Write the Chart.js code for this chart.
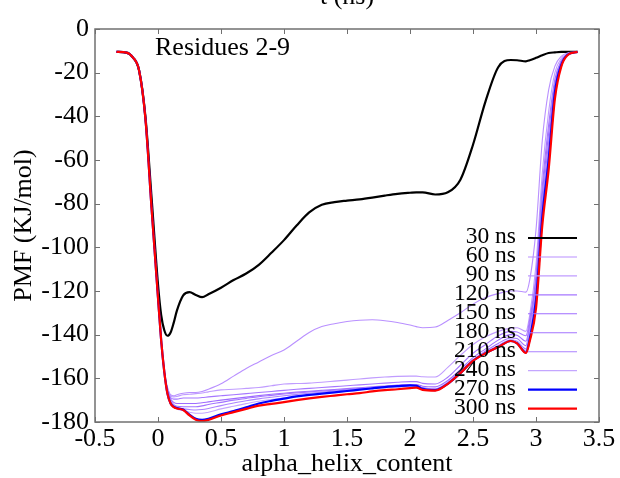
<!DOCTYPE html>
<html><head><meta charset="utf-8">
<script src="https://cdn.jsdelivr.net/npm/chart.js@4.4.1/dist/chart.umd.min.js"></script>
<style>html,body{margin:0;padding:0;background:#fff;}canvas{display:block;}</style>
</head><body>
<canvas id="c" width="620" height="478" style="width:620px;height:478px"></canvas>
<script>
// ---------- data ----------
const xValues = [-0.33,-0.25,-0.2,-0.15,-0.1,-0.05,0,0.025,0.05,0.075,0.1,0.125,0.15,0.2,0.25,0.3,0.35,0.4,0.5,0.6,0.7,0.8,0.9,1.0,1.1,1.2,1.3,1.4,1.5,1.6,1.7,1.8,1.9,2.0,2.05,2.1,2.2,2.3,2.4,2.5,2.6,2.7,2.8,2.85,2.92,2.95,3.0,3.05,3.1,3.15,3.2,3.25,3.33];

const seriesLabels = ['30 ns','60 ns','90 ns','120 ns','150 ns','180 ns','210 ns','240 ns','270 ns','300 ns'];

const pmf30 = [-10.5,-10.8,-13,-19,-40,-78,-117,-131,-138,-140.5,-139,-134.5,-129,-122,-120.5,-121.8,-122.8,-121.5,-118.5,-115,-112,-108,-102.5,-96.7,-90,-84,-80.5,-79.3,-78.6,-78,-77.2,-76.3,-75.5,-75,-74.8,-74.8,-75.8,-74.8,-69,-53,-33,-17.5,-14.2,-14.3,-14.8,-14.3,-13.2,-12,-11,-10.7,-10.5,-10.5,-10.5];
const pmf60 = [-10.5,-10.8,-13,-19,-41,-83,-123,-142.5,-157,-164,-167.5,-168,-167.5,-166.8,-166.5,-166.5,-166,-165,-162.5,-159,-155.5,-152.5,-149.5,-147,-143,-139,-136.3,-135,-134,-133.4,-133.2,-133.6,-134.4,-135.6,-136.3,-136.8,-136.5,-133.5,-130,-126,-123,-121.2,-120,-120,-120.5,-115,-92,-51,-28,-17,-12.5,-11,-10.5];
const pmf90 = [-10.5,-10.8,-13,-19,-41,-83,-123,-142.5,-157,-164.5,-168,-168.5,-168.3,-167.5,-167.3,-167,-166.7,-166.2,-165.3,-165,-164.6,-164.2,-163.4,-162.6,-162.4,-162.2,-161.8,-161.3,-160.8,-160.3,-159.8,-159.4,-159.1,-159,-159,-159.3,-159.4,-155,-149.5,-144.5,-141,-138.5,-137,-136.8,-138.5,-131,-108,-66,-38,-20,-13.5,-11.3,-10.5];
const pmf120 = [-10.5,-10.8,-13,-19,-41,-83,-123,-142.5,-157,-165,-168.8,-169.5,-169.5,-169,-169,-169,-168.8,-168.5,-168,-167.5,-167,-166.5,-166,-165.5,-165,-164.6,-164.2,-163.8,-163.4,-163,-162.6,-162.2,-161.8,-161.5,-161.5,-162.3,-162.6,-159.5,-154,-148.5,-144.5,-140.5,-138.5,-138.8,-140.5,-133,-113,-72,-44,-23,-14.5,-11.5,-10.5];
const pmf150 = [-10.5,-10.8,-13,-19,-41,-83,-123,-142.5,-157,-165.5,-169.5,-171,-171.5,-171.5,-171.5,-171.5,-171.2,-170.8,-170,-169.3,-168.6,-167.9,-167.3,-166.8,-166.3,-165.9,-165.5,-165.1,-164.7,-164.3,-163.9,-163.5,-163.1,-162.8,-162.8,-163.6,-163.9,-161,-156,-150.5,-146.5,-142.5,-140,-140.3,-143,-135,-115,-76,-48,-25,-15,-11.7,-10.5];
const pmf180 = [-10.5,-10.8,-13,-19,-41,-83,-123,-142.5,-157,-166,-170,-172,-172.8,-173,-173,-173,-172.6,-172,-171,-170,-169.2,-168.4,-167.8,-167.2,-166.7,-166.2,-165.8,-165.4,-165,-164.6,-164.2,-163.8,-163.4,-163.1,-163.1,-164.2,-164.8,-161.8,-157,-151.5,-147.5,-144,-141.5,-141.8,-145,-136,-117,-80,-52,-27,-15.5,-11.8,-10.5];
const pmf210 = [-10.5,-10.8,-13,-19,-41,-83,-123,-142.5,-157,-166.3,-170.5,-172.8,-173.5,-174,-174.3,-174.5,-174.3,-173.8,-172.5,-171.3,-170.3,-169.4,-168.7,-168,-167.4,-166.8,-166.3,-165.8,-165.3,-164.8,-164.3,-164,-163.6,-163.3,-163.4,-164.6,-165.2,-162.2,-157.3,-151.8,-148,-145,-142.3,-143,-146.5,-138,-120,-83,-56,-29,-16,-12,-10.5];
const pmf240 = [-10.5,-10.8,-13,-19,-41,-83,-123,-142.5,-157,-166.5,-171,-173.2,-174,-174.8,-175.5,-176,-176,-175.5,-174,-172.8,-171.6,-170.5,-169.7,-169,-168.2,-167.5,-166.9,-166.3,-165.8,-165.2,-164.7,-164.3,-163.9,-163.6,-163.7,-165,-165.5,-162.4,-157.5,-152,-148.3,-145.4,-142.7,-143.6,-147.3,-139.5,-122,-86,-59,-30.5,-16.5,-12,-10.5];
const pmf270 = [-10.5,-10.8,-13,-19,-41,-83,-123,-142.5,-157,-167,-171.5,-173,-173.6,-174.3,-176.6,-178.5,-179,-178.5,-176.5,-175,-173.3,-171.5,-170.3,-169.3,-168.3,-167.6,-167,-166.4,-165.8,-165.2,-164.6,-164,-163.6,-163.2,-163.4,-164.8,-165.4,-162.5,-157.6,-152,-148.5,-145.7,-142.9,-144,-148.2,-142,-124,-86,-60,-29,-16.5,-11.8,-10.5];
const pmf300 = [-10.5,-10.8,-13,-19,-41,-83,-123,-142.5,-157,-167,-171.5,-173.2,-173.8,-174.5,-177,-179,-179.6,-179,-177,-175.5,-174,-172.5,-171.7,-170.9,-170,-169.2,-168.5,-167.9,-167.3,-166.8,-166,-165.4,-165,-164.5,-164.3,-165.3,-165.6,-162.5,-157.6,-152,-148.5,-145.7,-142.9,-144,-148.4,-143,-128,-90,-64.6,-32,-17.4,-12,-10.5];

const xTicks = [-0.5,0,0.5,1,1.5,2,2.5,3,3.5];
const xTickLabels = ['-0.5','0','0.5','1','1.5','2','2.5','3','3.5'];
const yTicks = [0,-20,-40,-60,-80,-100,-120,-140,-160,-180];
const yTickLabels = ['0','-20','-40','-60','-80','-100','-120','-140','-160','-180'];

const topTitle = 't (ns)';
const panelLabel = 'Residues 2-9';
const xTitle = 'alpha_helix_content';
const yTitle = 'PMF (KJ/mol)';

// ---------- styles ----------
const seriesColors = ['#000000','#b990ff','#c09cff','#a677ff','#9f6cff','#a374ff','#ab82ff','#c4a6ff','#0000ff','#ff0000'];
const seriesWidths = [2.2,1.1,1.1,1.1,1.1,1.1,1.1,1.1,2.2,2.2];
const FONT = "'Liberation Serif','Times New Roman',serif";

const allSeries = [pmf30,pmf60,pmf90,pmf120,pmf150,pmf180,pmf210,pmf240,pmf270,pmf300];

const datasets = allSeries.map((ys, i) => ({
  label: seriesLabels[i],
  data: xValues.map((xv, j) => ({x: xv, y: ys[j]})),
  borderColor: seriesColors[i],
  backgroundColor: seriesColors[i],
  borderWidth: seriesWidths[i],
  pointRadius: 0,
  fill: false,
  cubicInterpolationMode: 'monotone',
  order: allSeries.length - i
}));

const decorPlugin = {
  id: 'decor',
  afterDatasetsDraw(chart) {
    const {ctx, chartArea: a, scales: {x, y}} = chart;
    ctx.save();
    ctx.strokeStyle = '#707070';
    ctx.lineWidth = 1;
    ctx.beginPath();
    xTicks.forEach(v => {
      const px = Math.round(x.getPixelForValue(v)) + 0.5;
      ctx.moveTo(px, a.bottom); ctx.lineTo(px, a.bottom - 5);
      ctx.moveTo(px, a.top); ctx.lineTo(px, a.top + 5);
    });
    yTicks.forEach(v => {
      const py = Math.round(y.getPixelForValue(v)) + 0.5;
      ctx.moveTo(a.left, py); ctx.lineTo(a.left + 5, py);
      ctx.moveTo(a.right, py); ctx.lineTo(a.right - 5, py);
    });
    ctx.stroke();
    ctx.lineWidth = 1.5;
    ctx.strokeRect(a.left, a.top, a.right - a.left, a.bottom - a.top);

    // legend (right-aligned text, line sample on the right)
    ctx.font = '23.5px ' + FONT;
    ctx.fillStyle = '#000';
    ctx.textAlign = 'right';
    ctx.textBaseline = 'middle';
    chart.data.datasets.forEach((ds, i) => {
      const ly = a.top + 209 + i * 18.95;
      ctx.fillText(ds.label, a.right - 83, ly - 1);
      ctx.strokeStyle = ds.borderColor;
      ctx.lineWidth = ds.borderWidth;
      ctx.beginPath();
      ctx.moveTo(a.right - 71, ly);
      ctx.lineTo(a.right - 22, ly);
      ctx.stroke();
    });

    // panel label
    ctx.font = '26px ' + FONT;
    ctx.textAlign = 'left';
    ctx.textBaseline = 'alphabetic';
    ctx.fillText(panelLabel, a.left + 60, a.top + 26);

    // top title (partly cut off at the top edge)
    ctx.textAlign = 'center';
    ctx.fillText(topTitle, (a.left + a.right) / 2, 4);
    ctx.restore();
  }
};

new Chart(document.getElementById('c'), {
  type: 'line',
  data: { datasets },
  options: {
    responsive: false,
    animation: false,
    devicePixelRatio: 1,
    layout: { padding: { left: 0, right: 21, top: 29, bottom: 0 } },
    plugins: { legend: { display: false }, tooltip: { enabled: false }, title: { display: false } },
    scales: {
      x: {
        type: 'linear', min: -0.5, max: 3.5,
        afterBuildTicks: s => { s.ticks = xTicks.map(v => ({value: v})); },
        afterFit: s => { s.height = 56; },
        ticks: {
          color: '#000', padding: 2, maxRotation: 0, autoSkip: false,
          font: { family: FONT, size: 26, lineHeight: 1.2 },
          callback: (v) => xTickLabels[xTicks.indexOf(v)]
        },
        grid: { display: false, drawTicks: false },
        border: { display: false },
        title: { display: true, text: xTitle, color: '#000', font: { family: FONT, size: 26, lineHeight: 1 }, padding: { top: 0, bottom: 1 } }
      },
      y: {
        type: 'linear', min: -180, max: 0,
        afterBuildTicks: s => { s.ticks = yTicks.map(v => ({value: v})); },
        afterFit: s => { s.width = 95; },
        ticks: {
          color: '#000', padding: 6, autoSkip: false,
          font: { family: FONT, size: 26, lineHeight: 1.2 },
          callback: (v) => yTickLabels[yTicks.indexOf(v)]
        },
        grid: { display: false, drawTicks: false },
        border: { display: false },
        title: { display: true, text: yTitle, color: '#000', font: { family: FONT, size: 26, lineHeight: 1 }, padding: { top: 11, bottom: 0 } }
      }
    }
  },
  plugins: [decorPlugin]
});
</script>
</body></html>
